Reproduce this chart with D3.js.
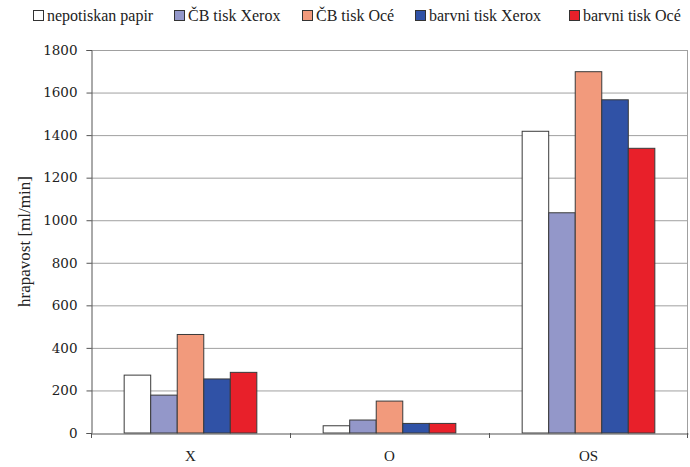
<!DOCTYPE html>
<html><head><meta charset="utf-8">
<script src="https://cdn.jsdelivr.net/npm/d3@7"></script>
<style>body{margin:0;background:#fff}svg{display:block}text{font-family:"Liberation Serif","DejaVu Serif",serif;fill:#222}</style>
</head><body><svg id="c" width="690" height="467"></svg>
<script>
const categories = ["X", "O", "OS"];
const seriesNames = ["nepotiskan papir", "ČB tisk Xerox", "ČB tisk Océ", "barvni tisk Xerox", "barvni tisk Océ"];
const seriesColors = ["#ffffff", "#9397c9", "#f29a7c", "#3052a6", "#e8202a"];
const nepotiskan = [272, 34, 1418];
const cbXerox = [178, 61, 1035];
const cbOce = [463, 150, 1698];
const barvniXerox = [254, 45, 1566];
const barvniOce = [285, 45, 1338];
const yTicks = [0, 200, 400, 600, 800, 1000, 1200, 1400, 1600, 1800];

const values = [nepotiskan, cbXerox, cbOce, barvniXerox, barvniOce];
const svg = d3.select("#c");
const m = {l: 91, r: 2, t: 50, b: 34};
const W = 690, H = 467;
const x0 = d3.scaleBand().domain(categories).range([m.l, W - m.r]).paddingInner(0).paddingOuter(0);
const x1 = d3.scaleBand().domain(seriesNames).range([0, x0.bandwidth()]).paddingOuter(1.25).paddingInner(0);
const y = d3.scaleLinear().domain([0, 1800]).range([H - m.b, m.t]);

// gridlines
svg.append("g").selectAll("line").data(yTicks.slice(1)).join("line")
  .attr("x1", m.l).attr("x2", W - m.r).attr("y1", d => y(d) + 0.5).attr("y2", d => y(d) + 0.5)
  .attr("stroke", "#a0a0a0").attr("stroke-width", 1);
// right border
svg.append("line").attr("x1", W - m.r - 0.5).attr("x2", W - m.r - 0.5).attr("y1", m.t).attr("y2", H - m.b)
  .attr("stroke", "#a0a0a0");

// bars
const g = svg.append("g");
categories.forEach((c, ci) => {
  seriesNames.forEach((s, si) => {
    g.append("rect")
      .attr("x", x0(c) + x1(s)).attr("width", x1.bandwidth())
      .attr("y", y(values[si][ci])).attr("height", y(0) - y(values[si][ci]))
      .attr("fill", seriesColors[si]).attr("stroke", "#3a3a3a").attr("stroke-width", 1);
  });
});

// y axis
const ya = svg.append("g").attr("transform", `translate(${m.l + 0.5},0)`)
  .call(d3.axisLeft(y).tickValues(yTicks).tickSize(5).tickPadding(9).tickFormat(d3.format("d")));
ya.select(".domain").attr("stroke", "#555");
ya.selectAll(".tick line").attr("stroke", "#555");
ya.selectAll("text").attr("font-size", 13.5).attr("fill", "#222").style("font-family", '"DejaVu Serif",serif');

// x axis
const xa = svg.append("g").attr("transform", `translate(0,${H - m.b + 0.5})`)
  .call(d3.axisBottom(x0).tickSize(0).tickPadding(17));
xa.select(".domain").attr("stroke", "#555");
xa.selectAll("text").attr("font-size", 15).attr("fill", "#222").style("font-family", '"Liberation Serif",serif');
// boundary ticks
const bounds = categories.map(c => x0(c)).concat([x0(categories[categories.length - 1]) + x0.bandwidth()]);
svg.append("g").selectAll("line").data(bounds).join("line")
  .attr("x1", d => Math.min(d, W - m.r - 1) + 0.5).attr("x2", d => Math.min(d, W - m.r - 1) + 0.5)
  .attr("y1", H - m.b).attr("y2", H - m.b + 5).attr("stroke", "#555");

// y label
svg.append("text").attr("transform", `translate(30,${(m.t + H - m.b) / 2}) rotate(-90)`)
  .attr("text-anchor", "middle").attr("font-size", 17).text("hrapavost [ml/min]");

// legend
const lx = [33, 174, 302, 415, 569];
const lg = svg.append("g");
seriesNames.forEach((s, i) => {
  lg.append("rect").attr("x", lx[i] + 0.5).attr("y", 10.5).attr("width", 10).attr("height", 10)
    .attr("fill", seriesColors[i]).attr("stroke", "#333");
  lg.append("text").attr("x", lx[i] + 14).attr("y", 20.5).attr("font-size", 16).text(s);
});
</script></body></html>
